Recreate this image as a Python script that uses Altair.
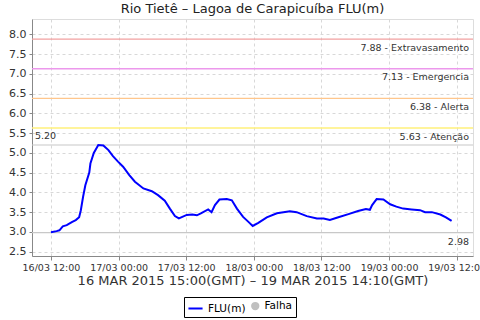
import altair as alt
import pandas as pd
from datetime import datetime, timedelta

# hours after 16/03 12:00 and river level (m)
hours = [0.0, 1.0, 1.5, 2.1, 2.8, 3.7, 4.4, 5.0, 5.3, 5.7, 6.1, 6.8, 7.0, 7.6, 8.4,
         9.3, 10.2, 11.0, 11.9, 12.8, 13.9, 14.9, 16.4, 17.9, 19.0, 20.2, 21.1, 22.0,
         22.7, 24.1, 25.1, 25.9, 26.6, 27.9, 28.5, 29.1, 29.9, 31.2, 32.1, 33.0, 34.1,
         35.0, 35.8, 36.8, 38.3, 40.1, 42.4, 43.6, 45.4, 47.2, 48.4, 49.5, 51.0, 52.8,
         54.5, 55.9, 56.6, 57.0, 57.8, 59.0, 60.2, 61.3, 62.5, 64.0, 65.5, 66.4, 67.6,
         69.1, 70.1, 71.1]
level = [2.99, 3.02, 3.04, 3.14, 3.17, 3.25, 3.30, 3.37, 3.55, 3.89, 4.18, 4.50, 4.73,
         5.00, 5.20, 5.19, 5.07, 4.92, 4.78, 4.65, 4.44, 4.27, 4.10, 4.03, 3.93, 3.79,
         3.59, 3.40, 3.34, 3.43, 3.44, 3.42, 3.47, 3.57, 3.50, 3.68, 3.82, 3.83, 3.80,
         3.59, 3.38, 3.26, 3.15, 3.23, 3.37, 3.47, 3.52, 3.50, 3.40, 3.34, 3.34, 3.30,
         3.37, 3.45, 3.53, 3.58, 3.56, 3.68, 3.83, 3.82, 3.70, 3.64, 3.59, 3.57, 3.55,
         3.50, 3.50, 3.44, 3.37, 3.28]

thr_values = [7.88, 7.13, 6.38, 5.63]
thr_names = ["Extravasamento", "Emergencia", "Alerta", "Atenção"]
thr_colors = ["#f2a0a0", "#ec98ec", "#ffc68c", "#fff07a"]

max_value = 5.20
min_value = 2.98

x_ticks = ["2015-03-16T12:00:00", "2015-03-17T00:00:00", "2015-03-17T12:00:00",
           "2015-03-18T00:00:00", "2015-03-18T12:00:00", "2015-03-19T00:00:00",
           "2015-03-19T12:00:00"]
x_domain = ["2015-03-16T08:38:00", "2015-03-19T14:54:00"]
y_ticks = [2.5, 3.0, 3.5, 4.0, 4.5, 5.0, 5.5, 6.0, 6.5, 7.0, 7.5, 8.0]

series_domain = ["FLU(m)", "Falha"]
series_range = ["#0000ff", "#c0c0c0"]

base = datetime(2015, 3, 16, 12, 0)
df = pd.DataFrame({
    "t": [(base + timedelta(hours=h)).strftime("%Y-%m-%dT%H:%M:%S") for h in hours],
    "v": level,
    "s": "FLU(m)",
})

FONT = "DejaVu Sans"

def dt(s):
    d = datetime.fromisoformat(s)
    return alt.DateTime(year=d.year, month=d.month, date=d.day, hours=d.hour,
                        minutes=d.minute, utc=True)

xscale = alt.Scale(type="utc", domain=[dt(x_domain[0]), dt(x_domain[1])], nice=False)
yscale = alt.Scale(domain=[2.39, 8.39], nice=False, zero=False)

xaxis = alt.Axis(values=[dt(s) for s in x_ticks],
                 labelExpr="utcFormat(datum.value, '%d/%m %H:%M')",
                 labelOverlap=False, labelFlush=False,
                 title="16 MAR 2015 15:00(GMT) – 19 MAR 2015 14:10(GMT)",
                 grid=True, gridDash=[3, 3], gridColor="#d8d8d8",
                 labelFont=FONT, labelFontSize=9.5, labelColor="#333333",
                 titleFont=FONT, titleFontSize=13, titleFontWeight="normal",
                 titleColor="#333333", titlePadding=3,
                 domainColor="#888888", tickColor="#888888", tickSize=4, labelPadding=2)
yaxis = alt.Axis(values=y_ticks, format=".1f", title=None, labelOverlap=False, labelFlush=False,
                 grid=True, gridDash=[3, 3], gridColor="#d8d8d8",
                 labelFont=FONT, labelFontSize=11, labelColor="#333333",
                 domainColor="#888888", tickColor="#888888", tickSize=3, labelPadding=3)

X = alt.X("t:T", scale=xscale, axis=xaxis)
Y = alt.Y("v:Q", scale=yscale, axis=yaxis)

df_thr = pd.DataFrame({
    "v": thr_values,
    "name": thr_names,
    "label": [f"{v:.2f} - {n}" for v, n in zip(thr_values, thr_names)],
    "t": x_domain[1],
})

df_ext = pd.DataFrame({
    "v": [max_value, min_value],
    "label": [f"{max_value:.2f}", f"{min_value:.2f}"],
    "t": [x_domain[0], x_domain[1]],
})

thr_rules = alt.Chart(df_thr).mark_rule(strokeWidth=1.4).encode(
    y=Y,
    color=alt.Color("name:N", scale=alt.Scale(domain=thr_names, range=thr_colors), legend=None),
)
thr_text = alt.Chart(df_thr).mark_text(align="right", baseline="middle", dx=-4, dy=8.5,
                                       font=FONT, fontSize=9.5, color="#333333").encode(
    x=X, y=Y, text="label:N",
)

ext_rules = alt.Chart(df_ext).mark_rule(color="#c8c8c8", strokeWidth=1.2).encode(y=Y)
ext_text_max = alt.Chart(df_ext.iloc[[0]]).mark_text(align="left", baseline="middle", dx=3, dy=-9,
                                                     font=FONT, fontSize=9.5, color="#333333").encode(
    x=X, y=Y, text="label:N")
ext_text_min = alt.Chart(df_ext.iloc[[1]]).mark_text(align="right", baseline="middle", dx=-4, dy=9,
                                                     font=FONT, fontSize=9.5, color="#333333").encode(
    x=X, y=Y, text="label:N")

line = alt.Chart(df).mark_line(color="#0000ff", strokeWidth=2).encode(x=X, y=Y)

leg = alt.Legend(title=None, orient="none", legendX=152, legendY=278,
                 direction="horizontal", strokeColor="#000000", padding=3,
                 labelFont=FONT, labelFontSize=10.5, labelColor="#000000",
                 symbolStrokeWidth=2, columnPadding=2, labelOffset=4)

legend_layer = alt.Chart(df).transform_filter("false").mark_point(filled=True, opacity=1).encode(
    x=X, y=Y,
    fill=alt.Fill("s:N", scale=alt.Scale(domain=series_domain, range=series_range), legend=leg),
    stroke=alt.Stroke("s:N", scale=alt.Scale(domain=series_domain, range=series_range), legend=leg),
    shape=alt.Shape("s:N", scale=alt.Scale(domain=series_domain, range=["stroke", "circle"]), legend=leg),
    size=alt.Size("s:N", scale=alt.Scale(domain=series_domain, range=[200, 40]), legend=leg),
)

chart = alt.layer(thr_rules, ext_rules, thr_text, ext_text_max, ext_text_min,
                  line, legend_layer).resolve_scale(color="independent").properties(
    width=441, height=237,
    title=alt.TitleParams("Rio Tietê – Lagoa de Carapicuíba FLU(m)", font=FONT, fontSize=13,
                          fontWeight="normal", color="#222222", anchor="middle", offset=3),
    autosize=alt.AutoSizeParams(type="none"),
    padding={"left": 32, "top": 19, "right": 7, "bottom": 64},
).configure_view(stroke="#aaaaaa", strokeWidth=1).configure(background="white")

chart.save("out.html", embed_options={"renderer": "svg", "actions": False})
